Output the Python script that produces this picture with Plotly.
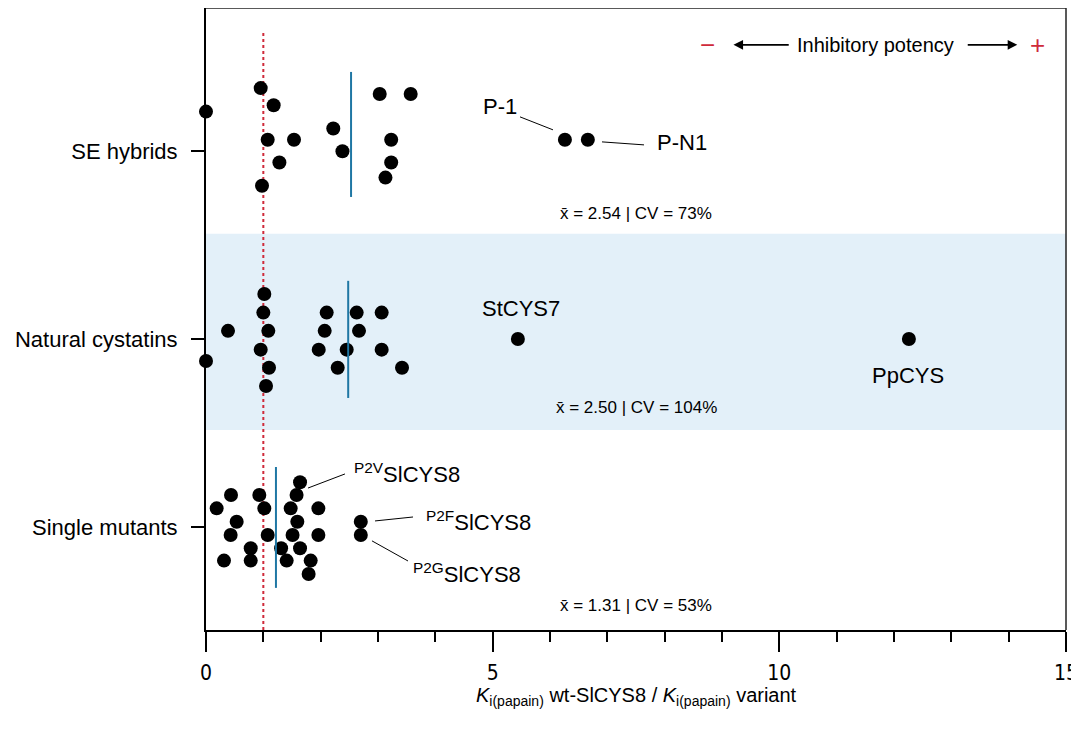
import plotly.graph_objects as go

# ---------------- data ----------------
categories = ["Single mutants", "Natural cystatins", "SE hybrids"]

se_x = [0, 0.954, 1.18, 1.076, 1.535, 1.28, 0.977, 2.22, 2.38, 3.03, 3.57, 3.23, 3.23, 3.13, 6.26, 6.66]
se_jit = [0.209, 0.334, 0.243, 0.059, 0.059, -0.062, -0.185, 0.119, -0.002, 0.303, 0.303, 0.059, -0.062, -0.142, 0.059, 0.059]

nat_x = [0, 0.384, 1.017, 1.0, 1.087, 0.954, 1.099, 1.047, 2.105, 2.07, 1.966, 2.297, 2.454, 2.628, 2.669,
         3.064, 3.064, 3.419, 5.44, 12.26]
nat_jit = [-0.117, 0.043, 0.239, 0.14, 0.043, -0.057, -0.153, -0.25, 0.14, 0.043, -0.057, -0.153, -0.057, 0.14,
           0.043, 0.14, -0.057, -0.153, 0.0, 0.0]

sm_x = [1.64, 1.58, 0.436, 0.93, 0.186, 1.017, 1.477, 1.96, 0.535, 1.593, 2.70, 0.43, 1.076, 1.51, 1.96, 2.70,
        0.78, 1.31, 1.64, 0.314, 0.78, 1.407, 1.826, 1.79]
sm_jit = [0.238, 0.17, 0.17, 0.17, 0.099, 0.099, 0.099, 0.099, 0.028, 0.028, 0.028, -0.043, -0.043, -0.043, -0.043,
          -0.043, -0.113, -0.113, -0.113, -0.179, -0.179, -0.179, -0.179, -0.25]

mean_line_x = [1.22, 2.48, 2.53]          # drawn centre lines (Single, Natural, SE)
stats_text = ["x\u0304 = 1.31 | CV = 53%", "x\u0304 = 2.50 | CV = 104%", "x\u0304 = 2.54 | CV = 73%"]
reference_x = 1.0

x_tickvals = [0, 5, 10, 15]

# ---------------- figure ----------------
BLACK = "#000000"
BLUE = "#1f77a4"
RED = "#cf2a3a"
FONT = "Liberation Sans, Arial, Helvetica, sans-serif"

fig = go.Figure()

groups = [(0, sm_x, sm_jit), (1, nat_x, nat_jit), (2, se_x, se_jit)]
for cat, xs, js in groups:
    fig.add_trace(go.Scatter(
        x=xs, y=[cat + j for j in js], mode="markers",
        marker=dict(size=14, color=BLACK, line=dict(width=0)),
        showlegend=False, hoverinfo="x", cliponaxis=False))

shapes = []
# shaded band for natural cystatins
shapes.append(dict(type="rect", xref="x", yref="y", x0=0, x1=15, y0=0.516, y1=1.559,
                   fillcolor="#e3f0f9", line=dict(width=0), layer="below"))
# reference dotted line
shapes.append(dict(type="line", xref="x", yref="y", x0=reference_x, x1=reference_x, y0=-0.548, y1=2.628,
                   line=dict(color=RED, width=2, dash="dot"), layer="below"))
# mean lines
extents = [(-0.324, 0.319), (-0.314, 0.309), (-0.245, 0.42)]
for cat, mx, (lo, hi) in zip([0, 1, 2], mean_line_x, extents):
    shapes.append(dict(type="line", xref="x", yref="y", x0=mx, x1=mx, y0=cat + lo, y1=cat + hi,
                       line=dict(color=BLUE, width=2)))
# leader lines
leaders = [
    (5.477, 2.181, 6.052, 2.112),
    (6.907, 2.048, 7.640, 2.032),
    (1.779, 0.207, 2.424, 0.282),
    (2.948, 0.032, 3.611, 0.053),
    (2.895, -0.074, 3.523, -0.181),
]
for x0, y0, x1, y1 in leaders:
    shapes.append(dict(type="line", xref="x", yref="y", x0=x0, y0=y0, x1=x1, y1=y1,
                       line=dict(color=BLACK, width=1)))
# top and right frame
shapes.append(dict(type="line", xref="paper", yref="paper", x0=0, x1=1, y0=1, y1=1,
                   line=dict(color="#222222", width=1.5)))
shapes.append(dict(type="line", xref="paper", yref="paper", x0=1, x1=1, y0=0, y1=1,
                   line=dict(color="#222222", width=1.5)))

ann = []
lab_font = dict(family=FONT, size=22, color=BLACK)
ann.append(dict(x=5.128, y=2.234, text="P-1", showarrow=False, font=lab_font, xanchor="center", yanchor="middle"))
ann.append(dict(x=7.83, y=2.043, text="P-N1", showarrow=False, font=lab_font, xanchor="left", yanchor="middle"))
ann.append(dict(x=5.494, y=1.16, text="StCYS7", showarrow=False, font=lab_font, xanchor="center", yanchor="middle"))
ann.append(dict(x=12.245, y=0.803, text="PpCYS", showarrow=False, font=lab_font, xanchor="center", yanchor="middle"))
ann.append(dict(x=2.547, y=0.287, text="<sup>P2V</sup>SlCYS8", showarrow=False, font=lab_font,
                xanchor="left", yanchor="middle"))
ann.append(dict(x=3.80, y=0.032, text="<sup>P2F</sup>SlCYS8", showarrow=False, font=lab_font,
                xanchor="left", yanchor="middle"))
ann.append(dict(x=3.576, y=-0.245, text="<sup>P2G</sup>SlCYS8", showarrow=False, font=lab_font,
                xanchor="left", yanchor="middle"))

stat_y = [-0.42, 0.633, 1.665]
for sy, st in zip(stat_y, stats_text):
    ann.append(dict(x=7.5, y=sy, text=st, showarrow=False, font=dict(family=FONT, size=17, color=BLACK),
                    xanchor="center", yanchor="middle"))

# inhibitory potency
top_y = 2.564
ann.append(dict(x=8.74, y=top_y, text="\u2212", showarrow=False,
                font=dict(family=FONT, size=26, color=RED), xanchor="center", yanchor="middle"))
ann.append(dict(x=11.67, y=top_y, text="Inhibitory potency", showarrow=False,
                font=dict(family=FONT, size=20, color=BLACK), xanchor="center", yanchor="middle"))
ann.append(dict(x=14.51, y=top_y, text="+", showarrow=False,
                font=dict(family=FONT, size=26, color=RED), xanchor="center", yanchor="middle"))
ann.append(dict(x=9.20, y=top_y, ax=10.19, ay=top_y, axref="x", ayref="y", xref="x", yref="y",
                text="", showarrow=True, arrowhead=2, arrowsize=1.2, arrowwidth=1.6, arrowcolor=BLACK,
                font=dict(size=12)))
ann.append(dict(x=14.15, y=top_y, ax=13.26, ay=top_y, axref="x", ayref="y", xref="x", yref="y",
                text="", showarrow=True, arrowhead=2, arrowsize=1.2, arrowwidth=1.6, arrowcolor=BLACK,
                font=dict(size=12)))

# axis title
ann.append(dict(x=0.5, y=-0.1077, xref="paper", yref="paper",
                text="<i>K</i><sub>i(papain)</sub> wt-SlCYS8 / <i>K</i><sub>i(papain)</sub> variant",
                showarrow=False, font=dict(family=FONT, size=20, color=BLACK),
                xanchor="center", yanchor="middle"))

# the page body adds an 8px margin, so the canvas is shifted by (8, 8)
fig.update_layout(
    width=1063, height=726,
    margin=dict(l=198, r=5, t=0, b=104, autoexpand=False),
    paper_bgcolor="white", plot_bgcolor="white",
    shapes=shapes, annotations=ann,
    font=dict(family=FONT, color=BLACK),
    xaxis=dict(range=[0, 15], tickvals=x_tickvals, ticktext=[str(v) for v in x_tickvals],
               showgrid=False, zeroline=False, showline=True, linecolor=BLACK, linewidth=2,
               ticks="outside", ticklen=20, tickwidth=2, tickcolor=BLACK, automargin=False,
               tickfont=dict(family="Liberation Sans Narrow, DejaVu Sans Condensed, Liberation Sans, Arial", size=21),
               ticklabelstandoff=3, ticklabeloverflow="allow",
               minor=dict(dtick=1, tick0=0, ticks="outside", ticklen=10, tickwidth=1.5, tickcolor=BLACK,
                          showgrid=False)),
    yaxis=dict(range=[-0.548, 2.76], tickvals=[0, 1, 2], ticktext=categories,
               showgrid=False, zeroline=False, showline=True, linecolor=BLACK, linewidth=2,
               ticks="outside", ticklen=13, tickwidth=2, tickcolor=BLACK, automargin=False,
               tickfont=dict(family=FONT, size=22), ticklabelstandoff=9),
)

fig.write_html("out.html")
